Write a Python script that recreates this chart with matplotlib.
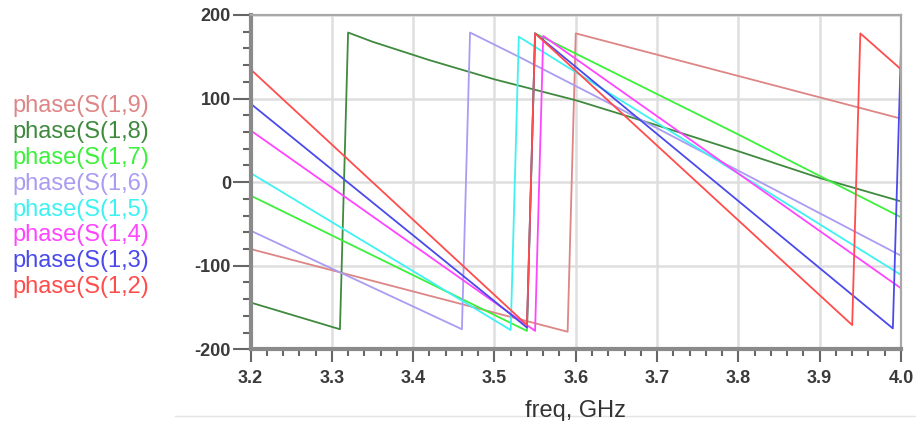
import numpy as np
import matplotlib
matplotlib.use('Agg')
import matplotlib.pyplot as plt
from matplotlib.ticker import MultipleLocator
from matplotlib.lines import Line2D

plt.rcParams['font.family'] = ['Liberation Sans', 'DejaVu Sans']
plt.rcParams['axes.unicode_minus'] = False

# NOTE: phase traces (freq in GHz, phase in degrees)
f_s12 = [3.20, 3.54, 3.55, 3.94, 3.95, 4.00]
p_s12 = [135, -171, 178, -171, 178, 135]

f_s13 = [3.20, 3.54, 3.55, 3.99, 4.00]
p_s13 = [94, -174, 178, -175, 160]

f_s14 = [3.20, 3.55, 3.56, 4.00]
p_s14 = [62, -178, 175, -127]

f_s15 = [3.20, 3.52, 3.53, 4.00]
p_s15 = [11, -177, 174, -111]

f_s16 = [3.20, 3.46, 3.47, 3.53, 3.65, 4.00]
p_s16 = [-58, -176, 179, 150, 90, -88]

f_s17 = [3.20, 3.54, 3.55, 3.80, 4.00]
p_s17 = [-16, -178, 178, 57, -42]

f_s18 = [3.20, 3.31, 3.32, 3.35, 3.42, 3.50, 3.60, 3.70, 3.80, 3.90, 4.00]
p_s18 = [-144, -176, 179, 168, 146, 123, 98, 68, 37, 5, -23]

f_s19 = [3.20, 3.59, 3.60, 4.00]
p_s19 = [-80, -179, 178, 76]

labels = ['phase(S(1,9)', 'phase(S(1,8)', 'phase(S(1,7)', 'phase(S(1,6)',
          'phase(S(1,5)', 'phase(S(1,4)', 'phase(S(1,3)', 'phase(S(1,2)']
colors = ['#de8585', '#3f8a3f', '#3cf03c', '#a99cf2',
          '#3ef2f2', '#ff45ff', '#4a4aec', '#ff4c4c']
traces = [(f_s19, p_s19), (f_s18, p_s18), (f_s17, p_s17), (f_s16, p_s16),
          (f_s15, p_s15), (f_s14, p_s14), (f_s13, p_s13), (f_s12, p_s12)]

fig = plt.figure(figsize=(9.16, 4.21), dpi=100)
ax = fig.add_axes([0.2735, 0.1703, 0.7101, 0.7941])

for (f, p), c in zip(traces, colors):
    ax.plot(f, p, color=c, lw=1.3)

ax.set_xlim(3.2, 4.0)
ax.set_ylim(-200, 200)
ax.set_xticks(np.round(np.arange(3.2, 4.01, 0.1), 1))
ax.set_xticklabels(['%.1f' % v for v in np.arange(3.2, 4.01, 0.1)])
ax.set_yticks([-200, -100, 0, 100, 200])
ax.xaxis.set_minor_locator(MultipleLocator(0.02))
ax.yaxis.set_minor_locator(MultipleLocator(20))

ax.set_axisbelow(True)
ax.grid(which='major', color='#dedede', lw=1.8)

for s in ['left', 'bottom']:
    ax.spines[s].set_color('#8a8a8a')
    ax.spines[s].set_linewidth(3)
for s in ['top', 'right']:
    ax.spines[s].set_color('#a8a8a8')
    ax.spines[s].set_linewidth(1.6)

ax.tick_params(axis='y', which='major', length=13, width=1.5, color='#666666', pad=1)
ax.tick_params(axis='y', which='minor', length=6, width=1.5, color='#666666')
ax.tick_params(axis='x', which='major', length=9, width=1.5, color='#666666', pad=6)
ax.tick_params(axis='x', which='minor', length=5, width=1.5, color='#666666')
for lab in ax.get_xticklabels() + ax.get_yticklabels():
    lab.set_fontsize(13)
    lab.set_fontweight('bold')
    lab.set_color('#3a3a3a')

fig.text(0.628, 0.024, 'freq, GHz', fontsize=17, color='#333333',
         ha='center', va='center')

# NOTE: legend as stacked coloured text on the left
for i, (lab, c) in enumerate(zip(labels, colors)):
    y = 106 + i * 25.9
    fig.text(12 / 916, 1 - y / 421, lab, color=c, fontsize=17,
             ha='left', va='center')

fig.add_artist(Line2D([175 / 916, 1], [1 - 416 / 421] * 2, color='#e4e4e4', lw=1))

fig.savefig('out.png', dpi=100)
